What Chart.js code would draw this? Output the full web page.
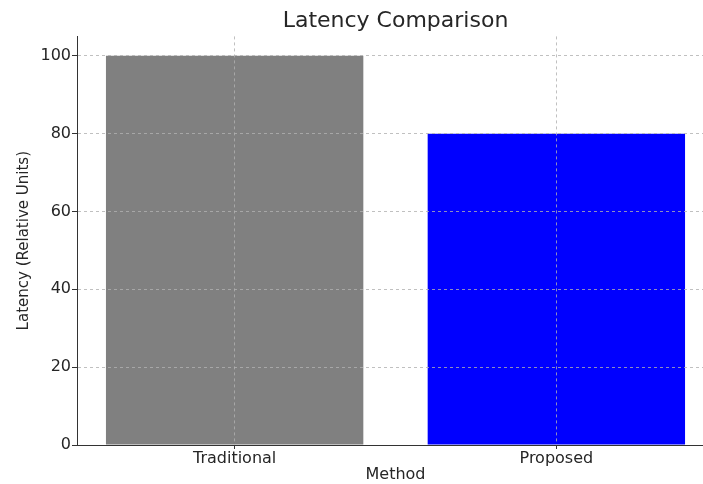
<!DOCTYPE html>
<html>
<head>
<meta charset="utf-8">
<title>Latency Comparison</title>
<script src="https://cdn.jsdelivr.net/npm/chart.js@4/dist/chart.umd.min.js"></script>
<style>
  html, body { margin: 0; padding: 0; background: #ffffff; overflow: hidden; }
  #wrap { position: relative; width: 720px; height: 484px; }
</style>
</head>
<body>
<div id="wrap"><canvas id="chart"></canvas></div>
<script>
// Methods compared and their latency in relative units
const categories = ['Traditional', 'Proposed'];
const latency = [100, 80];
const barColors = ['#808080', '#0000ff'];
const yTicks = [0, 20, 40, 60, 80, 100];

const TEXT = '#262626';
const FONT = 'DejaVu Sans';
const GRID = 'rgba(176,176,176,0.8)';

const points = categories.map((name, i) => ({ x: i, y: latency[i] }));

new Chart(document.getElementById('chart'), {
  type: 'bar',
  data: {
    datasets: [{
      data: points,
      backgroundColor: barColors,
      borderWidth: 0,
      categoryPercentage: 1.0,
      barPercentage: 0.8
    }]
  },
  options: {
    responsive: true,
    maintainAspectRatio: false,
    animation: false,
    layout: { padding: { left: 0, right: 6, top: 0, bottom: 0 } },
    plugins: {
      legend: { display: false },
      tooltip: { enabled: false },
      title: {
        display: true,
        text: 'Latency Comparison',
        fullSize: false,
        color: TEXT,
        font: { family: FONT, size: 22, weight: 'normal' },
        padding: { top: 8, bottom: 2 }
      }
    },
    scales: {
      x: {
        type: 'linear',
        min: -0.49,
        max: 1.49,
        offset: false,
        afterBuildTicks: (scale) => { scale.ticks = categories.map((c, i) => ({ value: i })); },
        afterFit: (scale) => { scale.height = 39; },
        ticks: {
          color: TEXT,
          font: { family: FONT, size: 16 },
          padding: 0,
          maxRotation: 0,
          callback: (v) => categories[v] ?? ''
        },
        grid: {
          offset: false,
          z: 1,
          color: GRID,
          lineWidth: 1,
          drawTicks: true,
          tickLength: 4,
          tickColor: '#333333'
        },
        border: { display: true, color: '#333333', width: 1, dash: [3, 3], z: 2 },
        title: {
          display: true,
          text: 'Method',
          color: TEXT,
          font: { family: FONT, size: 16 },
          padding: { top: 0, bottom: 0 }
        }
      },
      y: {
        min: 0,
        max: 105,
        afterBuildTicks: (scale) => { scale.ticks = yTicks.map(v => ({ value: v })); },
        afterFit: (scale) => { scale.width = 77; },
        ticks: {
          color: TEXT,
          font: { family: FONT, size: 16 },
          padding: 1
        },
        grid: {
          z: 1,
          color: GRID,
          lineWidth: 1,
          drawTicks: true,
          tickLength: 5,
          tickColor: '#333333'
        },
        border: { display: true, color: '#333333', width: 1, dash: [3, 3], z: 2 },
        title: {
          display: true,
          text: 'Latency (Relative Units)',
          color: TEXT,
          font: { family: FONT, size: 15 },
          padding: { top: 15, bottom: 0 }
        }
      }
    }
  }
});
</script>
</body>
</html>
